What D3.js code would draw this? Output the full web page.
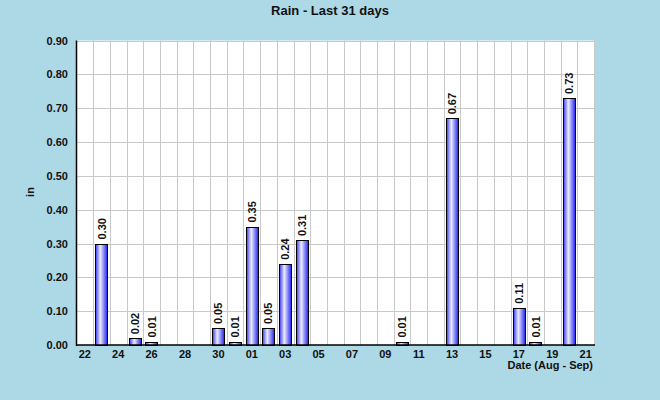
<!DOCTYPE html>
<html>
<head>
<meta charset="utf-8">
<script src="https://cdn.jsdelivr.net/npm/d3@7"></script>
<style>
  body { margin: 0; background: #add8e6; }
  svg { display: block; font-family: "Liberation Sans", Arial, sans-serif; }
</style>
</head>
<body>
<svg id="chart" width="660" height="400"></svg>
<script>
// Day labels, Aug 22 -> Sep 21
const days = ['22','23','24','25','26','27','28','29','30','31',
  '01','02','03','04','05','06','07','08','09','10',
  '11','12','13','14','15','16','17','18','19','20','21'];
// Daily rain (in)
const rain = [0, 0.30, 0, 0.02, 0.01, 0, 0, 0, 0.05, 0.01,
  0.35, 0.05, 0.24, 0.31, 0, 0, 0, 0, 0, 0.01,
  0, 0, 0.67, 0, 0, 0, 0.11, 0.01, 0, 0.73, 0];
const yTicks = [0, 0.1, 0.2, 0.3, 0.4, 0.5, 0.6, 0.7, 0.8, 0.9];

const svg = d3.select('#chart');
const plotL = 76.5, plotR = 594, plotT = 40.5, plotB = 345;

const x = d3.scaleBand()
  .domain(d3.range(days.length))
  .range([plotL, plotR])
  .paddingInner(0.26)
  .paddingOuter(0.13);
const step = x.step();

const y = d3.scaleLinear().domain([0, 0.9]).range([plotB, plotT]);

// Plot background
svg.append('rect')
  .attr('x', plotL).attr('y', plotT)
  .attr('width', plotR - plotL).attr('height', plotB - plotT)
  .attr('fill', '#fff');

// Gradient for bars
const grad = svg.append('defs').append('linearGradient')
  .attr('id', 'barGrad')
  .attr('x1', 0).attr('x2', 1).attr('y1', 0).attr('y2', 0);
grad.append('stop').attr('offset', '0%').attr('stop-color', '#3a3aff');
grad.append('stop').attr('offset', '40%').attr('stop-color', '#ececff');
grad.append('stop').attr('offset', '100%').attr('stop-color', '#2020f0');

// Grid
const grid = svg.append('g').attr('stroke', '#c8c8c8').attr('stroke-width', 1);
grid.selectAll('.hg')
  .data(yTicks.slice(1))
  .enter().append('line')
  .attr('x1', plotL).attr('x2', plotR)
  .attr('y1', d => Math.round(y(d)) + 0.5).attr('y2', d => Math.round(y(d)) + 0.5);
grid.selectAll('.vg')
  .data(d3.range(1, days.length + 1))
  .enter().append('line')
  .attr('x1', i => Math.round(plotL + i * step) + 0.5)
  .attr('x2', i => Math.round(plotL + i * step) + 0.5)
  .attr('y1', plotT).attr('y2', plotB);

// Bars
const bars = rain.map((v, i) => ({ i, v })).filter(d => d.v > 0);
svg.selectAll('.bar')
  .data(bars)
  .enter().append('rect')
  .attr('x', d => Math.round(x(d.i)) + 0.5)
  .attr('y', d => Math.round(y(d.v)) + 0.5)
  .attr('width', Math.round(x.bandwidth()))
  .attr('height', d => Math.round(plotB) - Math.round(y(d.v)))
  .attr('fill', 'url(#barGrad)')
  .attr('stroke', '#000')
  .attr('stroke-width', 1);

// Value labels
svg.selectAll('.val')
  .data(bars)
  .enter().append('text')
  .attr('transform', d => `translate(${x(d.i) + x.bandwidth() / 2 + 4},${y(d.v) - 4}) rotate(-90)`)
  .attr('font-size', 11)
  .attr('font-weight', 'bold')
  .attr('fill', '#111')
  .text(d => d.v.toFixed(2));

// Axis lines
svg.append('line')
  .attr('x1', plotL).attr('x2', plotL).attr('y1', plotT).attr('y2', plotB + 1)
  .attr('stroke', '#000').attr('stroke-width', 1.5);
svg.append('line')
  .attr('x1', plotL).attr('x2', plotR + 1).attr('y1', plotB).attr('y2', plotB)
  .attr('stroke', '#000').attr('stroke-width', 1.5);

// Y tick labels
svg.selectAll('.yt')
  .data(yTicks)
  .enter().append('text')
  .attr('x', 68)
  .attr('y', d => y(d) + 4)
  .attr('text-anchor', 'end')
  .attr('font-size', 11)
  .attr('font-weight', 'bold')
  .attr('fill', '#111')
  .text(d => d.toFixed(2));

// X tick labels (every other day)
svg.selectAll('.xt')
  .data(days.map((d, i) => ({ d, i })).filter(d => d.i % 2 === 0))
  .enter().append('text')
  .attr('x', d => x(d.i) + x.bandwidth() / 2)
  .attr('y', 358)
  .attr('text-anchor', 'middle')
  .attr('font-size', 11)
  .attr('font-weight', 'bold')
  .attr('fill', '#111')
  .text(d => d.d);

// Axis titles
svg.append('text')
  .attr('x', 593).attr('y', 369)
  .attr('text-anchor', 'end')
  .attr('font-size', 11)
  .attr('font-weight', 'bold')
  .attr('fill', '#111')
  .text('Date (Aug - Sep)');

svg.append('text')
  .attr('transform', 'translate(34,192) rotate(-90)')
  .attr('text-anchor', 'middle')
  .attr('font-size', 11)
  .attr('font-weight', 'bold')
  .attr('fill', '#111')
  .text('in');

// Title
svg.append('text')
  .attr('x', 330).attr('y', 15)
  .attr('text-anchor', 'middle')
  .attr('font-size', 13)
  .attr('font-weight', 'bold')
  .attr('fill', '#111')
  .text('Rain - Last 31 days');
</script>
</body>
</html>
